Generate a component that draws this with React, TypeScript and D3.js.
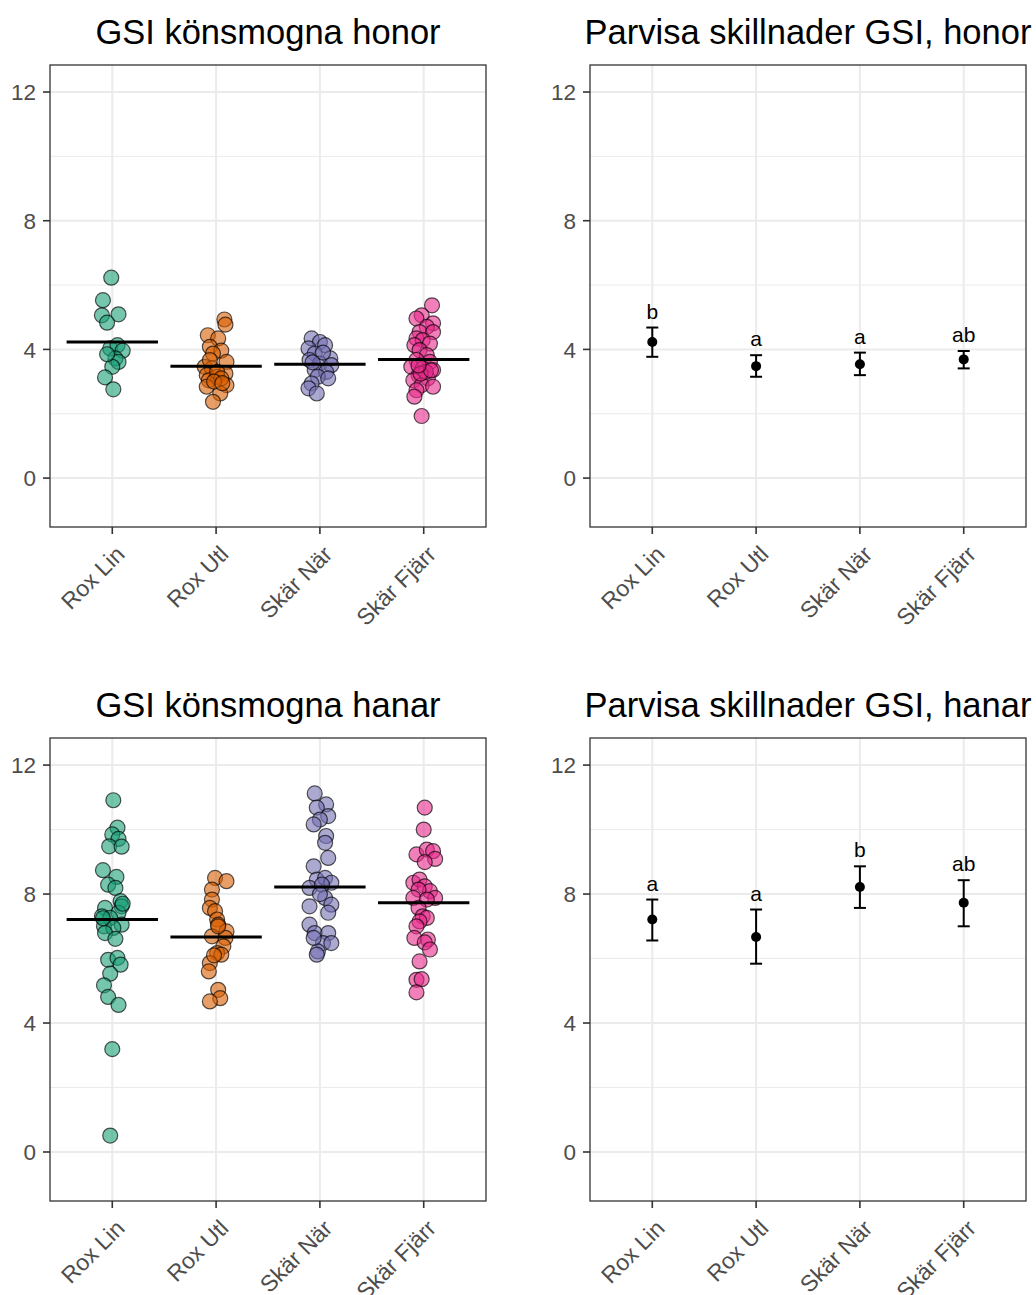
import React from "react";
import * as d3 from "d3";

// categories / tick labels
const sites = ["Rox Lin", "Rox Utl", "Skär När", "Skär Fjärr"];
const yTicks = [0, 4, 8, 12];
const yMinor = [2, 6, 10];
const colors = ["#1B9E77", "#D95F02", "#7570B3", "#E7298A"];

// GSI values per fish, [value, jitter (fraction of category step)]
const honorRoxLin = [[6.23, -0.01], [5.53, -0.09], [5.06, -0.1], [5.09, 0.06], [4.83, -0.05], [4.03, -0.02], [4.13, 0.05], [3.96, 0.1], [3.72, 0.03], [3.61, 0.06], [3.46, 0.0], [3.13, -0.07], [2.76, 0.01], [3.85, -0.05]];
const honorRoxUtl = [[4.93, 0.08], [4.77, 0.09], [4.44, -0.08], [4.34, 0.02], [4.08, -0.06], [3.96, 0.05], [3.87, -0.03], [3.61, 0.1], [3.46, -0.11], [3.41, -0.04], [3.25, 0.09], [3.2, -0.09], [3.15, 0.01], [3.04, -0.07], [2.89, 0.1], [2.84, -0.09], [2.63, 0.04], [2.37, -0.03], [3.3, 0.01], [3.67, -0.06], [3.1, 0.05], [3.0, -0.02], [2.95, 0.06]];
const honorSkarNar = [[4.34, -0.08], [4.23, 0.0], [4.13, 0.05], [4.03, -0.11], [3.87, -0.05], [3.72, 0.1], [3.67, -0.1], [3.56, 0.0], [3.51, 0.11], [3.36, -0.05], [3.3, 0.06], [3.15, -0.02], [3.1, 0.08], [2.94, -0.08], [2.79, -0.11], [2.63, -0.03], [3.9, 0.03], [3.6, -0.07]];
const honorSkarFjarr = [[5.37, 0.08], [5.06, -0.02], [4.96, -0.07], [4.81, 0.09], [4.7, 0.03], [4.54, -0.04], [4.54, 0.09], [4.34, -0.07], [4.29, -0.01], [4.18, 0.06], [4.13, -0.09], [3.98, -0.04], [3.82, 0.03], [3.67, -0.07], [3.61, 0.06], [3.46, -0.12], [3.41, -0.01], [3.36, 0.09], [3.2, -0.05], [3.1, 0.04], [3.04, -0.1], [2.89, -0.02], [2.84, 0.09], [2.73, -0.07], [2.53, -0.09], [1.93, -0.02], [3.3, 0.02], [3.25, -0.03], [3.35, 0.07], [3.5, -0.05]];

const hanarRoxLin = [[10.91, 0.01], [10.06, 0.05], [9.85, 0.0], [9.71, 0.06], [9.48, -0.03], [9.47, 0.09], [8.74, -0.09], [8.53, 0.04], [8.29, -0.04], [8.19, 0.03], [7.78, 0.08], [7.57, -0.07], [7.62, 0.09], [7.42, 0.06], [7.31, -0.1], [7.26, -0.02], [7.05, 0.09], [7.0, -0.08], [6.95, 0.01], [6.79, -0.07], [6.61, 0.03], [5.96, -0.04], [6.02, 0.05], [5.81, 0.08], [5.53, -0.02], [5.17, -0.08], [4.81, -0.04], [4.56, 0.06], [3.19, 0.0], [0.51, -0.02], [7.7, 0.1], [7.25, -0.09]];
const hanarRoxUtl = [[8.5, -0.01], [8.4, 0.1], [8.14, -0.04], [7.83, -0.04], [7.57, -0.06], [7.47, -0.01], [7.21, 0.01], [7.05, 0.02], [6.84, 0.1], [6.69, -0.04], [6.64, 0.09], [6.38, 0.07], [6.17, 0.01], [6.12, 0.05], [5.86, -0.06], [5.6, -0.07], [5.03, 0.02], [4.77, 0.04], [4.67, -0.06], [7.0, 0.02], [6.1, -0.02]];
const hanarSkarNar = [[11.12, -0.05], [10.78, 0.06], [10.68, -0.03], [10.42, 0.08], [10.31, 0.0], [10.16, -0.06], [9.8, 0.06], [9.59, 0.05], [9.12, 0.08], [8.86, -0.06], [8.45, -0.03], [8.5, 0.05], [8.35, 0.11], [8.19, -0.1], [8.29, 0.02], [7.88, 0.05], [7.67, 0.11], [7.62, -0.1], [7.42, 0.08], [7.05, -0.1], [6.79, -0.05], [6.79, 0.08], [6.48, 0.03], [6.48, 0.11], [6.22, -0.02], [6.12, -0.03], [6.64, -0.06], [8.0, 0.0]];
const hanarSkarFjarr = [[10.68, 0.01], [10.0, 0.0], [9.23, -0.07], [9.38, 0.03], [9.33, 0.09], [9.09, 0.11], [8.99, 0.01], [8.35, -0.1], [8.45, -0.04], [8.24, 0.01], [8.09, 0.06], [8.14, -0.05], [7.88, 0.11], [7.88, -0.1], [7.83, 0.03], [7.57, -0.05], [7.31, -0.01], [7.26, 0.03], [7.15, -0.04], [7.0, -0.07], [6.64, -0.09], [6.59, 0.04], [6.5, 0.01], [6.28, 0.06], [5.91, -0.04], [5.34, -0.07], [5.36, -0.02], [4.95, -0.07]];

// group means and confidence intervals
const honorMean = [4.23, 3.48, 3.54, 3.69];
const honorLo = [3.77, 3.15, 3.2, 3.41];
const honorHi = [4.68, 3.82, 3.9, 3.95];
const honorLetters = ["b", "a", "a", "ab"];

const hanarMean = [7.21, 6.67, 8.22, 7.73];
const hanarLo = [6.56, 5.84, 7.57, 7.0];
const hanarHi = [7.83, 7.52, 8.86, 8.43];
const hanarLetters = ["a", "a", "b", "ab"];

const FONT = "'Liberation Sans', Arial, Helvetica, sans-serif";
const W = 1036;
const H = 1295;

const Frame = ({ x0, x1, y0, y1, title, x, y, children }) => {
  return (
    <g>
      <text x={(x0 + x1) / 2} y={y0 - 21} textAnchor="middle" fontSize={34.5} fill="#000">{title}</text>
      <rect x={x0} y={y0} width={x1 - x0} height={y1 - y0} fill="#fff" />
      {yMinor.map(t => (
        <line key={"m" + t} x1={x0} x2={x1} y1={y(t)} y2={y(t)} stroke="#ebebeb" strokeWidth={1} />
      ))}
      {yTicks.map(t => (
        <line key={"g" + t} x1={x0} x2={x1} y1={y(t)} y2={y(t)} stroke="#ebebeb" strokeWidth={2} />
      ))}
      {sites.map(s => (
        <line key={"v" + s} x1={x(s)} x2={x(s)} y1={y0} y2={y1} stroke="#ebebeb" strokeWidth={2} />
      ))}
      {children}
      <rect x={x0} y={y0} width={x1 - x0} height={y1 - y0} fill="none" stroke="#333" strokeWidth={1.3} />
      {yTicks.map(t => (
        <g key={"t" + t}>
          <line x1={x0 - 7} x2={x0} y1={y(t)} y2={y(t)} stroke="#333" strokeWidth={1.6} />
          <text x={x0 - 14} y={y(t)} dy="0.36em" textAnchor="end" fontSize={22.5} fill="#4d4d4d">{t}</text>
        </g>
      ))}
      {sites.map(s => (
        <g key={"xt" + s}>
          <line x1={x(s)} x2={x(s)} y1={y1} y2={y1 + 7} stroke="#333" strokeWidth={1.6} />
          <text transform={`translate(${x(s) + 2},${y1 + 17}) rotate(-45)`} dy="0.72em" textAnchor="end" fontSize={23} fill="#4d4d4d">{s}</text>
        </g>
      ))}
    </g>
  );
};

const ScatterPanel = ({ x0, x1, y0, y1, title, groups, means }) => {
  const x = d3.scalePoint().domain(sites).range([x0, x1]).padding(0.6);
  const y = d3.scaleLinear().domain([-1.52, 12.84]).range([y1, y0]);
  const step = x.step();
  return (
    <Frame x0={x0} x1={x1} y0={y0} y1={y1} title={title} x={x} y={y}>
      {groups.map((pts, i) => (
        <g key={i}>
          {pts.map(([v, j], k) => (
            <circle key={k} cx={x(sites[i]) + j * step} cy={y(v)} r={7.5}
              fill={colors[i]} fillOpacity={0.6} stroke="#000" strokeOpacity={0.65} strokeWidth={1.2} />
          ))}
        </g>
      ))}
      {means.map((m, i) => (
        <line key={"mean" + i} x1={x(sites[i]) - 0.44 * step} x2={x(sites[i]) + 0.44 * step}
          y1={y(m)} y2={y(m)} stroke="#000" strokeWidth={3} />
      ))}
    </Frame>
  );
};

const CIPanel = ({ x0, x1, y0, y1, title, mean, lo, hi, letters }) => {
  const x = d3.scalePoint().domain(sites).range([x0, x1]).padding(0.6);
  const y = d3.scaleLinear().domain([-1.52, 12.84]).range([y1, y0]);
  return (
    <Frame x0={x0} x1={x1} y0={y0} y1={y1} title={title} x={x} y={y}>
      {sites.map((s, i) => (
        <g key={s}>
          <line x1={x(s)} x2={x(s)} y1={y(lo[i])} y2={y(hi[i])} stroke="#000" strokeWidth={2} />
          <line x1={x(s) - 6} x2={x(s) + 6} y1={y(lo[i])} y2={y(lo[i])} stroke="#000" strokeWidth={2} />
          <line x1={x(s) - 6} x2={x(s) + 6} y1={y(hi[i])} y2={y(hi[i])} stroke="#000" strokeWidth={2} />
          <circle cx={x(s)} cy={y(mean[i])} r={5} fill="#000" />
          <text x={x(s)} y={y(hi[i]) - 9} textAnchor="middle" fontSize={21} fill="#000">{letters[i]}</text>
        </g>
      ))}
    </Frame>
  );
};

export default function App() {
  return (
    <svg width={W} height={H} style={{ position: "absolute", left: 0, top: 0, fontFamily: FONT, background: "#fff" }}>
      <rect width={W} height={H} fill="#fff" />
      <ScatterPanel x0={50} x1={486} y0={65} y1={527} title="GSI könsmogna honor"
        groups={[honorRoxLin, honorRoxUtl, honorSkarNar, honorSkarFjarr]} means={honorMean} />
      <CIPanel x0={590} x1={1026} y0={65} y1={527} title="Parvisa skillnader GSI, honor"
        mean={honorMean} lo={honorLo} hi={honorHi} letters={honorLetters} />
      <ScatterPanel x0={50} x1={486} y0={738} y1={1201} title="GSI könsmogna hanar"
        groups={[hanarRoxLin, hanarRoxUtl, hanarSkarNar, hanarSkarFjarr]} means={hanarMean} />
      <CIPanel x0={590} x1={1026} y0={738} y1={1201} title="Parvisa skillnader GSI, hanar"
        mean={hanarMean} lo={hanarLo} hi={hanarHi} letters={hanarLetters} />
    </svg>
  );
}
